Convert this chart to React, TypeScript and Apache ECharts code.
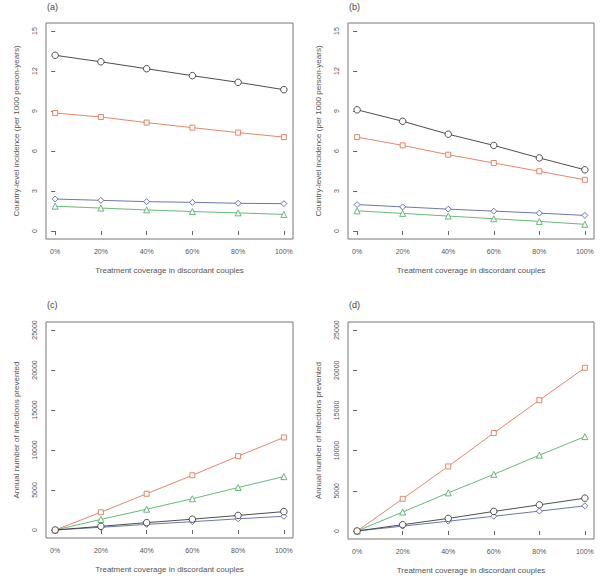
import React, { useEffect, useRef } from "react";
import * as echarts from "echarts";

const coverage = [0, 20, 40, 60, 80, 100];
const xTicks = [0, 20, 40, 60, 80, 100];
const incTicks = [0, 3, 6, 9, 12, 15];
const prevTicks = [0, 5000, 10000, 15000, 20000, 25000];

// Panel (a)
const aBlack = [13.18, 12.69, 12.17, 11.65, 11.15, 10.6];
const aOrange = [8.85, 8.55, 8.13, 7.75, 7.38, 7.04];
const aBlue = [2.4, 2.3, 2.2, 2.15, 2.08, 2.05];
const aGreen = [1.86, 1.72, 1.58, 1.46, 1.36, 1.24];
// Panel (b)
const bBlack = [9.09, 8.23, 7.26, 6.42, 5.48, 4.59];
const bOrange = [7.04, 6.42, 5.72, 5.1, 4.48, 3.84];
const bBlue = [1.98, 1.81, 1.64, 1.49, 1.34, 1.17];
const bGreen = [1.51, 1.32, 1.12, 0.92, 0.72, 0.5];
// Panel (c)
const cBlack = [0, 460, 920, 1350, 1820, 2300];
const cOrange = [0, 2220, 4530, 6840, 9230, 11570];
const cBlue = [0, 340, 700, 1040, 1400, 1720];
const cGreen = [0, 1320, 2600, 3910, 5310, 6670];
// Panel (d)
const dBlack = [0, 780, 1560, 2430, 3250, 4080];
const dOrange = [0, 4000, 8030, 12190, 16270, 20300];
const dBlue = [0, 600, 1220, 1830, 2470, 3130];
const dGreen = [0, 2350, 4740, 7040, 9430, 11740];

const panelLabels = ["(a)", "(b)", "(c)", "(d)"];
const xTitle = "Treatment coverage in discordant couples";
const incTitle = "Country-level incidence (per 1000 person-years)";
const prevTitle = "Annual number of infections prevented";

const FONT = "Liberation Sans";
const COLORS = { black: "#3a3a3a", orange: "#e0785a", blue: "#5a66aa", green: "#57b06c" };

export default function App() {
  const ref = useRef<HTMLDivElement>(null);
  useEffect(() => {
    if (!ref.current) return;
    const chart = echarts.init(ref.current, undefined, { renderer: "svg" });
    const grids = [
      { left: 46, top: 23, width: 247, height: 216 },
      { left: 348, top: 23, width: 246, height: 216 },
      { left: 46, top: 322, width: 247, height: 216 },
      { left: 348, top: 322, width: 246, height: 217 },
    ].map((g) => ({ ...g, show: true, borderColor: "#777", borderWidth: 1, backgroundColor: "transparent" }));

    const xAxes = grids.map((_, i) => ({
      type: "value",
      gridIndex: i,
      min: -4,
      max: 104,
      axisLine: { show: false },
      splitLine: { show: false },
      axisTick: { show: true, length: 4, customValues: xTicks, lineStyle: { color: "#666" } },
      axisLabel: {
        customValues: xTicks,
        formatter: (v: number) => `${v}%`,
        fontSize: 7,
        fontFamily: FONT,
        color: "#555",
        margin: 9,
      },
      name: xTitle,
      nameLocation: "middle",
      nameGap: 27,
      nameTextStyle: { fontSize: 8, fontFamily: FONT, color: "#555" },
    }));

    const yAxes = grids.map((_, i) => {
      const inc = i < 2;
      const ticks = inc ? incTicks : prevTicks;
      return {
        type: "value",
        gridIndex: i,
        min: inc ? -0.6 : -1000,
        max: inc ? 15.6 : 26000,
        axisLine: { show: false },
        splitLine: { show: false },
        axisTick: { show: true, length: 4, customValues: ticks, lineStyle: { color: "#666" } },
        axisLabel: {
          customValues: ticks,
          formatter: (v: number) => String(v),
          rotate: 90,
          align: "center",
          verticalAlign: "bottom",
          fontSize: 7,
          fontFamily: FONT,
          color: "#555",
          margin: 8,
        },
        name: inc ? incTitle : prevTitle,
        nameLocation: "middle",
        nameRotate: 90,
        nameGap: 26,
        nameTextStyle: { fontSize: 8, fontFamily: FONT, color: "#555" },
      };
    });

    const panels = [
      [aBlack, aOrange, aBlue, aGreen],
      [bBlack, bOrange, bBlue, bGreen],
      [cBlack, cOrange, cBlue, cGreen],
      [dBlack, dOrange, dBlue, dGreen],
    ];
    const styles = [
      { color: COLORS.black, symbol: "circle", size: 6.5 },
      { color: COLORS.orange, symbol: "rect", size: 5 },
      { color: COLORS.blue, symbol: "diamond", size: 6 },
      { color: COLORS.green, symbol: "triangle", size: 6 },
    ];
    const series: any[] = [];
    panels.forEach((arrs, pi) => {
      [3, 2, 1, 0].forEach((si) => {
        const st = styles[si];
        series.push({
          type: "line",
          xAxisIndex: pi,
          yAxisIndex: pi,
          data: coverage.map((c, k) => [c, arrs[si][k]]),
          symbol: st.symbol,
          symbolSize: st.size,
          showAllSymbol: true,
          lineStyle: { color: st.color, width: 0.9 },
          itemStyle: { color: "#ffffff", borderColor: st.color, borderWidth: 0.9 },
          emphasis: { disabled: true },
          silent: true,
        });
      });
    });

    const labelPos = [
      [47, 2],
      [349, 2],
      [47, 300],
      [349, 300],
    ];
    const graphic = panelLabels.map((t, i) => ({
      type: "text",
      left: labelPos[i][0],
      top: labelPos[i][1],
      style: { text: t, fontSize: 9, fontFamily: FONT, fill: "#444" },
    }));

    chart.setOption({
      animation: false,
      backgroundColor: "#fff",
      grid: grids,
      xAxis: xAxes,
      yAxis: yAxes,
      series,
      graphic,
    });
    return () => chart.dispose();
  }, []);
  return <div ref={ref} style={{ width: 600, height: 584, position: "absolute", left: 0, top: 0 }} />;
}
